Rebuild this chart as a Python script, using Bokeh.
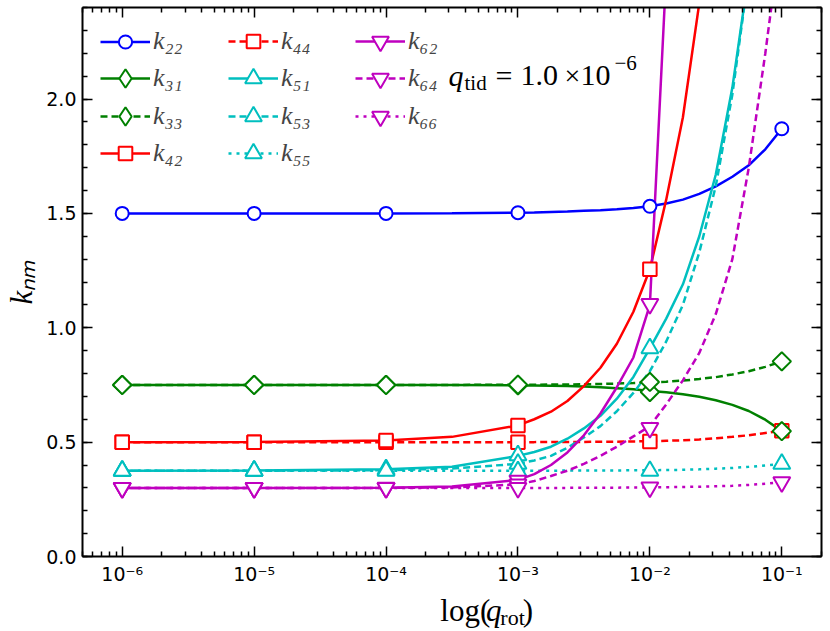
import math
import numpy as np
from bokeh.plotting import figure
from bokeh.layouts import column
from bokeh.models import (Range1d, LogAxis, LinearAxis, FixedTicker, Legend, LegendItem,
                          Label, PrintfTickFormatter, CustomJSTickFormatter, ColumnDataSource)
from bokeh.embed import file_html
from bokeh.resources import INLINE

# ---------------- data ----------------
q_line = [1e-6, 1e-5, 1e-4, 3.16e-4, 1e-3, 1.33e-3, 1.78e-3, 2.37e-3, 3.16e-3, 4.22e-3, 5.62e-3,
          7.5e-3, 1e-2, 1.33e-2, 1.78e-2, 2.37e-2, 3.16e-2, 4.22e-2, 5.62e-2, 7.5e-2, 1e-1]
q_mark = [1e-6, 1e-5, 1e-4, 1e-3, 1e-2, 1e-1]

k22_line = [1.5, 1.5, 1.5, 1.501, 1.503, 1.504, 1.506, 1.508, 1.511, 1.514, 1.518, 1.524, 1.531,
            1.543, 1.56, 1.585, 1.618, 1.66, 1.71, 1.78, 1.87]
k31_line = [0.75, 0.75, 0.75, 0.75, 0.748, 0.747, 0.746, 0.745, 0.743, 0.74, 0.736, 0.731, 0.724,
            0.718, 0.709, 0.698, 0.683, 0.663, 0.636, 0.598, 0.548]
k33_line = [0.75, 0.75, 0.75, 0.75, 0.751, 0.751, 0.752, 0.752, 0.753, 0.754, 0.756, 0.758, 0.761,
            0.764, 0.769, 0.776, 0.784, 0.796, 0.81, 0.829, 0.853]
k42_line = [0.5, 0.5007, 0.507, 0.523, 0.573, 0.6, 0.633, 0.68, 0.745, 0.825, 0.93, 1.07, 1.256,
            1.56, 1.92, 2.42, 3.1, None, None, None, None]
k44_line = [0.5, 0.5, 0.5, 0.5, 0.5, 0.5, 0.501, 0.501, 0.501, 0.502, 0.502, 0.503, 0.504,
            0.506, 0.508, 0.512, 0.517, 0.523, 0.53, 0.54, 0.55]
k51_line = [0.375, 0.376, 0.381, 0.392, 0.44, 0.457, 0.48, 0.515, 0.56, 0.615, 0.69, 0.785, 0.91,
            1.04, 1.19, 1.40, 1.67, 2.05, 2.55, 3.3, None]
k53_line = [0.375, 0.375, 0.377, 0.385, 0.405, 0.42, 0.44, 0.475, 0.52, 0.57, 0.635, 0.715, 0.81,
            0.94, 1.10, 1.33, 1.62, 2.02, 2.55, 3.3, None]
k55_line = [0.375, 0.375, 0.375, 0.375, 0.375, 0.375, 0.375, 0.376, 0.376, 0.376, 0.376, 0.377, 0.377,
            0.378, 0.379, 0.381, 0.384, 0.387, 0.392, 0.398, 0.405]
k62_line = [0.3, 0.3, 0.301, 0.306, 0.335, 0.36, 0.40, 0.455, 0.53, 0.625, 0.74, 0.87, 1.10,
            2.55, None, None, None, None, None, None, None]
k64_line = [0.3, 0.3, 0.3, 0.302, 0.315, 0.33, 0.352, 0.375, 0.405, 0.44, 0.48, 0.525, 0.57,
            0.665, 0.77, 0.89, 1.06, 1.30, 1.70, 2.2, 2.75]
k66_line = [0.3, 0.3, 0.3, 0.3, 0.3, 0.3, 0.3, 0.3, 0.301, 0.301, 0.301, 0.302, 0.302,
            0.303, 0.304, 0.305, 0.307, 0.309, 0.313, 0.318, 0.325]

k22_mark = [1.5, 1.5, 1.5, 1.503, 1.531, 1.87]
k31_mark = [0.75, 0.75, 0.75, 0.748, 0.719, 0.548]
k33_mark = [0.75, 0.75, 0.75, 0.751, 0.763, 0.853]
k42_mark = [0.5, 0.5, 0.507, 0.573, 1.256, None]
k44_mark = [0.5, 0.5, 0.5, 0.5, 0.503, 0.55]
k51_mark = [0.375, 0.375, 0.381, 0.442, 0.91, None]
k53_mark = [0.375, 0.375, 0.377, 0.405, None, None]
k55_mark = [0.375, 0.375, 0.375, 0.372, 0.374, 0.405]
k62_mark = [0.3, 0.3, 0.301, 0.332, 1.104, None]
k64_mark = [0.3, 0.3, 0.3, 0.315, 0.562, None]
k66_mark = [0.3, 0.3, 0.3, 0.3, 0.302, 0.325]

labels = ["k₂₂", "k₃₁", "k₃₃", "k₄₂", "k₄₄", "k₅₁", "k₅₃", "k₅₅", "k₆₂", "k₆₄", "k₆₆"]
x_ticks = [1e-6, 1e-5, 1e-4, 1e-3, 1e-2, 1e-1]
y_ticks = [0.0, 0.5, 1.0, 1.5, 2.0]
y_title = "kₙₘ"

# ---------------- styles ----------------
BLUE, GREEN, RED, CYAN, MAG = "#0000ff", "#008000", "#ff0000", "#00bfbf", "#bf00bf"
DASH, DOT = "7 4", "3 5"
series = [
    # label, line, marks, color, dash, marker, size, angle, legend marker, legend glyph h
    (labels[0], k22_line, k22_mark, BLUE, "solid", "circle", 13, 0, "circle", 33),
    (labels[1], k31_line, k31_mark, GREEN, "solid", "square", 13, math.pi / 4, "diamond", 46),
    (labels[2], k33_line, k33_mark, GREEN, DASH, "square", 13, math.pi / 4, "diamond", 46),
    (labels[3], k42_line, k42_mark, RED, "solid", "square", 13.5, 0, "square", 34),
    (labels[4], k44_line, k44_mark, RED, DASH, "square", 13.5, 0, "square", 34),
    (labels[5], k51_line, k51_mark, CYAN, "solid", "triangle", 17, 0, "triangle", 42),
    (labels[6], k53_line, k53_mark, CYAN, DASH, "triangle", 17, 0, "triangle", 42),
    (labels[7], k55_line, k55_mark, CYAN, DOT, "triangle", 17, 0, "triangle", 42),
    (labels[8], k62_line, k62_mark, MAG, "solid", "inverted_triangle", 17, 0, "inverted_triangle", 42),
    (labels[9], k64_line, k64_mark, MAG, DASH, "inverted_triangle", 17, 0, "inverted_triangle", 42),
    (labels[10], k66_line, k66_mark, MAG, DOT, "inverted_triangle", 17, 0, "inverted_triangle", 42),
]

# page geometry
PW, PH = 826, 590  # main figure
FL, FB = 82, 556   # frame left / bottom on the page

p = figure(width=PW, height=PH, x_axis_type="log",
           x_range=Range1d(5e-7, 0.2), y_range=Range1d(0, 2.4),
           output_backend="svg", toolbar_location=None,
           min_border_left=FL, min_border_right=5, min_border_top=7, min_border_bottom=PH - FB)
p.xgrid.visible = False
p.ygrid.visible = False
p.outline_line_color = None
p.background_fill_color = "white"
p.border_fill_color = "white"

x_minor = [m * 10.0 ** e for e in range(-7, 0) for m in range(2, 10) if 5e-7 <= m * 10.0 ** e <= 0.2]
y_minor = [i / 10 for i in range(0, 25)]

sup_js = """
const e = Math.round(Math.log10(tick));
const m = {"-":"\u207b","0":"\u2070","1":"\u00b9","2":"\u00b2","3":"\u00b3","4":"\u2074","5":"\u2075","6":"\u2076","7":"\u2077","8":"\u2078","9":"\u2079"};
let s = "";
for (const c of String(e)) { s += m[c]; }
return "10" + s;
"""

def style_axis(ax, show_labels):
    ax.axis_line_width = 2
    ax.axis_line_color = "black"
    ax.major_tick_in = 10
    ax.major_tick_out = 0
    ax.minor_tick_in = 5
    ax.minor_tick_out = 0
    ax.major_tick_line_width = 1.5
    ax.minor_tick_line_width = 1.5
    ax.major_tick_line_color = "black"
    ax.minor_tick_line_color = "black"
    if show_labels:
        ax.major_label_text_font = "DejaVu Sans"
        ax.major_label_text_font_size = "19px"
        ax.major_label_text_color = "black"
    else:
        ax.major_label_text_font_size = "1px"
        ax.major_label_text_alpha = 0
        ax.major_label_standoff = 0

xa = p.xaxis[0]
xa.ticker = FixedTicker(ticks=x_ticks, minor_ticks=x_minor)
xa.formatter = CustomJSTickFormatter(code=sup_js)
style_axis(xa, True)
xa.major_label_standoff = 6

ya = p.yaxis[0]
ya.ticker = FixedTicker(ticks=y_ticks, minor_ticks=y_minor)
ya.formatter = PrintfTickFormatter(format="%.1f")
style_axis(ya, True)
ya.major_label_standoff = 6
ya.axis_label = y_title
ya.axis_label_text_font = "Liberation Serif"
ya.axis_label_text_font_style = "italic"
ya.axis_label_text_font_size = "31px"
ya.axis_label_text_color = "black"
ya.axis_label_standoff = 4

top = LogAxis(ticker=FixedTicker(ticks=x_ticks, minor_ticks=x_minor))
style_axis(top, False)
p.add_layout(top, "above")
right = LinearAxis(ticker=FixedTicker(ticks=y_ticks, minor_ticks=y_minor))
style_axis(right, False)
p.add_layout(right, "right")

# ---------------- glyphs ----------------
line_rs = []
for s in series:
    src = ColumnDataSource(dict(x=q_line, y=np.array(s[1], dtype=float)))
    line_rs.append(p.line("x", "y", source=src, line_color=s[3], line_width=2.5, line_dash=s[4]))

marker_order = [0, 4, 1, 2, 3, 5, 6, 7, 8, 9, 10]
mark_rs = [None] * len(series)
for i in marker_order:
    s = series[i]
    src = ColumnDataSource(dict(x=q_mark, y=np.array(s[2], dtype=float)))
    mark_rs[i] = p.scatter("x", "y", source=src, marker=s[5], size=s[6], angle=s[7],
                           line_color=s[3], line_width=2, fill_color="white")

# ---------------- legend: one small legend per entry, 3 columns ----------------
col_x = [100, 228, 355]          # page x where each column's sample starts
row_y = [41, 78, 116, 153]       # page y of each row's centre
grid_pos = [(0, 0), (0, 1), (0, 2), (0, 3), (1, 0), (1, 1), (1, 2), (1, 3), (2, 0), (2, 1), (2, 2)]
nan = float("nan")
for i, s in enumerate(series):
    rends = [line_rs[i]]
    if s[8] != s[5]:
        # marker shape used for the legend sample only (nothing drawn in the plot)
        rends.append(p.scatter(x=[nan], y=[nan], marker=s[8], line_color=s[3], line_width=2,
                               fill_color="white"))
    else:
        rends.append(mark_rs[i])
    c, r = grid_pos[i]
    gh = s[9]
    leg = Legend(items=[LegendItem(label=s[0], renderers=rends)],
                 location=(col_x[c] - FL, (FB - row_y[r]) - gh / 2),
                 glyph_width=50, glyph_height=gh, padding=0, spacing=0,
                 label_standoff=3, label_text_font="Liberation Serif",
                 label_text_font_style="italic", label_text_font_size="26px",
                 border_line_color=None, background_fill_alpha=0)
    p.add_layout(leg)

# ---------------- texts ----------------
def add_text(fig, txt, x, y, size, style="normal", units="screen"):
    fig.add_layout(Label(x=x, y=y, x_units=units, y_units=units, text=txt,
                         text_font="Liberation Serif", text_font_size=f"{size}px",
                         text_font_style=style, text_color="black",
                         text_baseline="alphabetic", text_align="left"))

def in_frame(txt, px, py, size, style="normal"):
    add_text(p, txt, px - FL, FB - py, size, style)

in_frame("q", 448, 75, 30, "italic")
in_frame("tid", 464, 82, 21)
in_frame("=", 495, 75, 30)
in_frame("1.0", 520, 75, 30)
in_frame("×", 564, 75, 28)
in_frame("10", 580, 75, 30)
in_frame("−6", 614, 62, 21)

# strip below the main figure with the x label
XH = 631 - PH
xfig = figure(width=PW, height=XH, x_range=Range1d(0, PW), y_range=Range1d(0, XH),
              x_axis_location=None, y_axis_location=None, output_backend="svg",
              toolbar_location=None, min_border=0, outline_line_color=None)
xfig.grid.visible = False

def in_xfig(txt, px, py, size, style="normal"):
    add_text(xfig, txt, px, 631 - py, size, style, units="data")

in_xfig("log(", 400, 610, 31)
in_xfig("q", 451, 610, 31, "italic")
in_xfig("rot", 467, 617, 22)
in_xfig(")", 492, 610, 31)

layout = column(p, xfig, spacing=0)
open("out.html", "w").write(file_html(layout, INLINE))
